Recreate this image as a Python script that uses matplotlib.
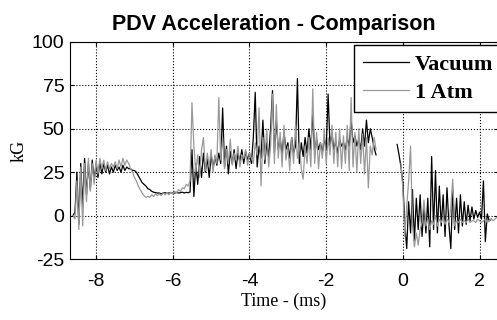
#PDV acceleration comparison: vacuum vs 1 atm shot
#values read by eye off the reference trace, sampled every 0.05 ms

import numpy as np
import matplotlib
matplotlib.use("Agg")
import matplotlib.pyplot as plt

plt.rcParams["axes.unicode_minus"] = False

nan = np.nan
step = 0.05

#segment start times (ms)
t_starts = [-8.60, -8.00, -5.50, -0.65, -0.15]

#*******************VACUUM*******************
vac_seg1 = [0, 2, 25, -5, 30, 5, 33, 12, 30, 15, 32, 20]
vac_seg2 = [30, 22, 31, 24, 30, 25, 29, 24, 28, 25, 29, 26, 28, 25, 29, 26, 28, 27,
            27, 26, 26, 25, 23, 21, 19, 18, 17, 15.5, 15, 14, 13.5, 13.2, 13,
            13, 12.5, 13, 13.2, 12.8, 13, 13.3, 12.9, 13, 13.4, 13, 13.2, 13.5, 13, 13.4, 13.2, 13.6]
vac_seg3 = [38, 11, 30, 18, 34, 22, 36, 25, 33, 22, 35, 27, 34, 29, 36, 30, 62, 28, 40, 24,
            37, 30, 38, 27, 36, 31, 38, 30, 37, 32, 36, 30, 45, 71, 28, 40, 33, 55, 30, 42,
            34, 50, 72, 36, 55, 38, 44, 35, 48, 38, 42, 33, 45, 36, 40, 79, 30, 42, 34, 45,
            36, 50, 38, 60, 35, 44, 38, 42, 36, 45, 38, 70, 40, 48, 38, 43, 36, 44, 40, 42,
            38, 45, 40, 55, 42, 46, 40, 44, 38, 50, 40, 55, 42, 50, 45, 39, 35]
vac_gap = [nan] * 10
vac_seg4 = [41, 35, 28, 19, -5, -19, 8, -10, 15, -15, 10, -8, 12, -12, 6, -10, 10, -18, 34, -8,
            26, -10, 17, -6, 12, -12, 16, -5, -19, 15, -8, 10, -10, 12, -6, 8, -5, 6, -3, 5,
            -2, 3, -1, 2, -2, 20, -15, 1, -3, -2, nan, nan, nan]

#*******************1 ATM*******************
atm_seg1 = [0, -2, 20, -8, 28, -6, 30, 8, 33, 14, 30, 18]
atm_seg2 = [32, 24, 33, 27, 32, 26, 31, 27, 30, 28, 31, 27, 32, 28, 33, 29, 32, 30,
            27, 25, 22, 20, 17, 15, 13, 11.5, 10.5, 11, 10.5, 12, 11, 12.5, 11.5,
            12.5, 11.5, 13, 12, 13, 12, 13.5, 12.5, 14, 13, 15, 14, 16, 15.5, 18, 17, 20]
atm_seg3 = [65, 40, 25, 35, 22, 38, 45, 26, 36, 28, 38, 25, 35, 30, 68, 32, 45, 27, 38, 30,
            44, 29, 36, 32, 40, 28, 35, 33, 38, 29, 36, 33, 30, 42, 35, 62, 17, 45, 32, 50,
            28, 40, 70, 30, 64, 33, 48, 28, 52, 32, 40, 26, 45, 30, 52, 33, 42, 27, 21, 40,
            30, 45, 28, 73, 30, 48, 27, 42, 33, 50, 30, 45, 35, 52, 30, 48, 28, 50, 27, 46,
            30, 52, 26, 68, 28, 48, 25, 50, 30, 47, 24, 45, 16, 40, 35, 45, 38]
atm_gap = [nan] * 10
atm_seg4 = [nan, nan, 30, 15, -12, 5, 20, 40, -5, -18, -10, -17, -8, -4, 9, -6, -2, -8, -3, -5,
            0, -6, -2, -4, -1, -5, -2, -4, 5, 21, -6, -3, -4, -2, -4, -3, -4, -2, -4, -3,
            -3, -4, -2, -3, -4, -3, -2, -4, -3, -2, -3, -2, -1]


def build(segments):
    #stitch segments together, each sampled every 0.05 ms from its start
    t, y = [], []
    for start, seg in zip(t_starts, segments):
        t.extend(start + step * np.arange(len(seg)))
        y.extend(seg)
    return np.array(t), np.array(y, dtype=float)


t_vac, vacuum = build([vac_seg1, vac_seg2, vac_seg3, vac_gap, vac_seg4])
t_atm, atm = build([atm_seg1, atm_seg2, atm_seg3, atm_gap, atm_seg4])

fig = plt.figure(figsize=(4.97, 3.2), dpi=100)
ax = fig.add_axes([70 / 497, 61 / 320, 1 - 70 / 497 + 0.002, 217 / 320])

ax.plot(t_vac, vacuum, color="#000000", linewidth=0.9, label="Vacuum")
ax.plot(t_atm, atm, color="#999999", linewidth=0.9, label="1 Atm")

ax.set_xlim(-8.68, 2.48)
ax.set_ylim(-25, 100)
ax.set_xticks([-8, -6, -4, -2, 0, 2])
ax.set_yticks([-25, 0, 25, 50, 75, 100])
ax.tick_params(direction="in", length=3, labelsize=14, top=True, right=True)
ax.tick_params(axis="x", pad=10)
ax.tick_params(axis="y", pad=4)
for lab in ax.get_xticklabels() + ax.get_yticklabels():
    lab.set_family("Liberation Sans")
ax.grid(True, linestyle=":", color="black", linewidth=0.8)

#labels
ax.set_xlabel("Time - (ms)", family="Liberation Serif", fontsize=13, labelpad=2)
ax.set_ylabel("kG", family="Liberation Serif", fontsize=13, labelpad=3)
fig.text(274 / 497, 1 - 30 / 320, "PDV Acceleration - Comparison", ha="center", va="baseline",
         family="Liberation Sans", fontweight="bold", fontsize=15.5)

leg = ax.legend(loc="upper right", bbox_to_anchor=(1.01, 0.985), fancybox=False, framealpha=1,
                edgecolor="black", borderaxespad=0, handlelength=2.1, handletextpad=0.25,
                labelspacing=0.35, borderpad=0.4,
                prop={"family": "Liberation Serif", "weight": "bold", "size": 16})
leg.get_frame().set_linewidth(1.0)

plt.savefig("out.png", dpi=100)
